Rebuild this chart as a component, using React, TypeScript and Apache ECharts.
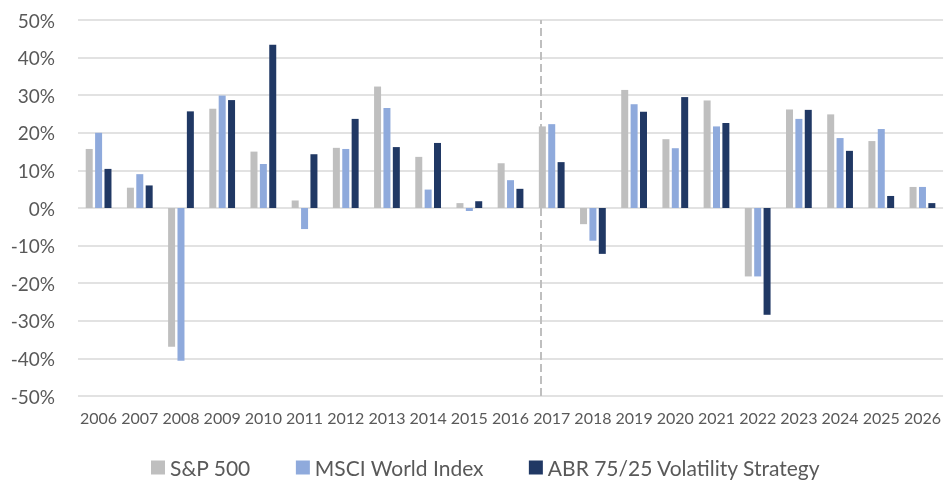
import React, { useEffect, useRef } from "react";
import * as echarts from "echarts";

const years = ["2006","2007","2008","2009","2010","2011","2012","2013","2014","2015","2016","2017","2018","2019","2020","2021","2022","2023","2024","2025","2026"];
const sp500 = [15.7, 5.4, -36.9, 26.4, 15.0, 2.0, 16.0, 32.3, 13.6, 1.3, 11.9, 21.7, -4.3, 31.4, 18.3, 28.6, -18.2, 26.2, 24.9, 17.8, 5.6];
const msciWorld = [20.0, 9.0, -40.6, 29.9, 11.7, -5.6, 15.7, 26.6, 4.9, -0.8, 7.4, 22.3, -8.7, 27.6, 15.9, 21.7, -18.2, 23.7, 18.6, 21.0, 5.6];
const abrStrategy = [10.4, 6.0, 25.7, 28.7, 43.4, 14.3, 23.7, 16.2, 17.3, 1.8, 5.1, 12.2, -12.2, 25.6, 29.5, 22.6, -28.4, 26.1, 15.2, 3.2, 1.3];
const seriesNames = ["S&P 500", "MSCI World Index", "ABR 75/25 Volatility Strategy"];
const yTicks = { min: -50, max: 50, interval: 10 };
// divider between back-tested and live period, in category units (0..21)
const dividerPos = 11.24;

const FONT = "Lato, 'Noto Sans', sans-serif";
const TXT = "#595959";

export default function App() {
  const ref = useRef<HTMLDivElement>(null);
  useEffect(() => {
    if (!ref.current) return;
    const chart = echarts.init(ref.current, null, { renderer: "svg" });
    const barBase = { type: "bar" as const, barWidth: 7, barGap: "34%", xAxisIndex: 0, yAxisIndex: 0 };
    chart.setOption({
      animation: false,
      textStyle: { fontFamily: FONT },
      grid: { left: 78, right: 0, top: 20, bottom: 85, containLabel: false },
      legend: {
        left: 151,
        top: 457,
        padding: 0,
        itemWidth: 14,
        itemHeight: 14,
        itemGap: 45,
        icon: "rect",
        textStyle: { color: TXT, fontSize: 21, fontFamily: FONT },
        data: seriesNames,
      },
      xAxis: [
        {
          type: "category",
          data: years,
          axisLine: { show: false, onZero: false },
          axisTick: { show: false },
          axisLabel: { color: TXT, fontSize: 16, margin: 13, interval: 0, fontFamily: FONT },
        },
        { type: "value", min: 0, max: 21, show: false },
      ],
      yAxis: {
        type: "value",
        min: yTicks.min,
        max: yTicks.max,
        interval: yTicks.interval,
        axisLine: { show: false },
        axisTick: { show: false },
        splitLine: { lineStyle: { color: "#D9D9D9", width: 1.5 } },
        axisLabel: { color: TXT, fontSize: 19, margin: 23, formatter: "{value}%", fontFamily: FONT },
      },
      series: [
        { ...barBase, name: seriesNames[0], data: sp500, itemStyle: { color: "#BFBFBF" } },
        { ...barBase, name: seriesNames[1], data: msciWorld, itemStyle: { color: "#8FAADC" } },
        { ...barBase, name: seriesNames[2], data: abrStrategy, itemStyle: { color: "#203864" } },
        {
          type: "line",
          xAxisIndex: 1,
          yAxisIndex: 0,
          data: [],
          silent: true,
          markLine: {
            silent: true,
            symbol: ["none", "none"],
            label: { show: false },
            lineStyle: { color: "#BFBFBF", width: 2, type: [8, 4] },
            data: [{ xAxis: dividerPos }],
          },
        },
      ],
    });
    return () => chart.dispose();
  }, []);
  return <div ref={ref} style={{ position: "fixed", left: 0, top: 0, width: 944, height: 481 }} />;
}
